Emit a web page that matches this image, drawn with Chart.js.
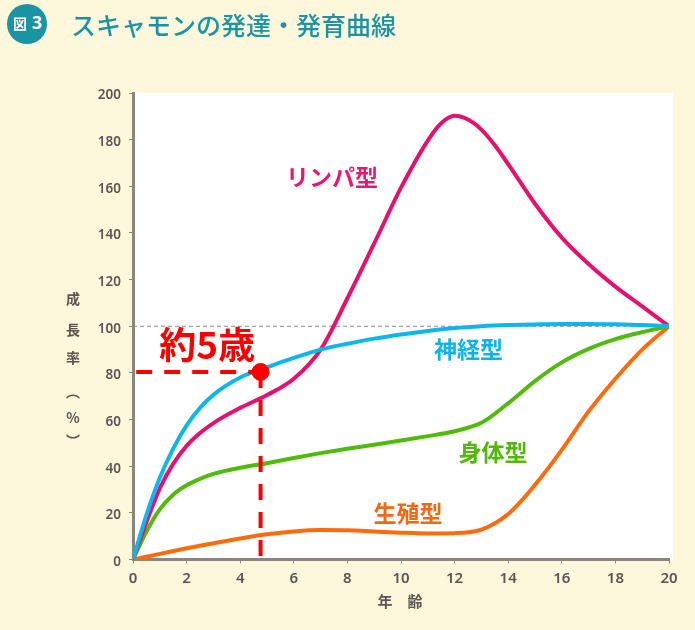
<!DOCTYPE html>
<html><head><meta charset="utf-8">
<style>html,body{margin:0;padding:0;background:#fdf7dc;overflow:hidden}#w{width:695px;height:630px;position:relative}</style>
<script src="https://cdn.jsdelivr.net/npm/chart.js@4"></script>
</head><body><div id="w"><canvas id="c" width="695" height="630"></canvas></div>
<script>
const xTicks=[0,2,4,6,8,10,12,14,16,18,20];
const yTicks=[0,20,40,60,80,100,120,140,160,180,200];
const lymphX=[0,0.5,1,1.5,2,2.5,3,4,5,6,7,8,9,10,11,11.5,12,12.5,13,13.5,14,15,16,17,18,19,20];
const lymphY=[0,16,30.5,41,48.7,54.2,58.5,65,70.5,77.5,90,112,135.5,159.4,179.6,187,190.2,188.6,184.3,177.6,169.5,152.5,138,126.7,117,108.5,100];
const neuralX=[0,0.5,1,1.5,2,2.5,3,4,5,6,7,8,9,10,11,12,13,14,15,16,17,18,19,20];
const neuralY=[0,19,35,47.5,57.5,65,70.6,78,82.4,86.4,90,92.5,94.7,96.5,98,99.2,100,100.5,100.8,101,101,100.9,100.5,100];
const generalX=[0,0.5,1,1.5,2,2.5,3,4,5,6,7,8,9,10,11,12,13,14,15,16,17,18,19,20];
const generalY=[0,12,21.5,27.8,31.8,34.6,36.7,39.3,41.3,43.5,45.6,47.5,49.2,51,52.9,55,58.6,67,76.5,84.5,90.3,94.5,97.5,100];
const reproX=[0,1,2,3,4,5,6,7,8,9,10,11,12,13,14,15,16,17,18,19,20];
const reproY=[0,2.4,4.8,7,9,10.8,12,12.6,12.5,12,11.5,11.2,11.3,12.8,19.5,32,47,63.5,77.5,90,100];
const title="スキャモンの発達・発育曲線";
const yTitle=["成","長","率","︵","%","︶"];
const xTitle="年　齢";
const names=["リンパ型","神経型","身体型","生殖型"];
const note="約5歳";
const pairs=(a,b)=>a.map((x,i)=>({x,y:b[i]}));
const jp='"Noto Sans CJK JP","Noto Sans",sans-serif';
const curve=(d,c)=>({data:pairs(d[0],d[1]),borderColor:c,borderWidth:4,pointRadius:0,cubicInterpolationMode:'monotone',fill:false});
const yTitleSpots=[299,330,358,392,418,441];
const decor={id:'decor',
 beforeDraw(ch){const g=ch.ctx,a=ch.chartArea;g.save();g.fillStyle='#fff';g.fillRect(a.left+2,a.top,a.right-a.left+2,a.bottom-a.top);g.restore();},
 afterDraw(ch){const g=ch.ctx,X=ch.scales.x,Y=ch.scales.y;g.save();g.textBaseline='middle';g.textAlign='left';
  g.fillStyle='#1a93a3';g.beginPath();g.arc(27,24,20,0,7);g.fill();
  g.fillStyle='#fff';g.font='bold 14px '+jp;g.fillText('図',13,24);g.font='bold 18px "Noto Sans",sans-serif';g.fillText('3',32,24);
  g.fillStyle='#1a93a3';g.font='500 25px '+jp;g.fillText(title,71,25);
  g.textAlign='center';
  g.fillStyle='#5a5552';g.font='bold 14px '+jp;
  yTitle.forEach((t,i)=>g.fillText(t,73,yTitleSpots[i]));
  g.font='bold 15px '+jp;g.fillText(xTitle,X.getPixelForValue(9.96),601);
  g.font='bold 23px '+jp;
  g.fillStyle='#e6186f';g.fillText(names[0],X.getPixelForValue(7.43),Y.getPixelForValue(163.7));
  g.fillStyle='#0db4ec';g.fillText(names[1],X.getPixelForValue(12.52),Y.getPixelForValue(90.3));
  g.fillStyle='#4fb80a';g.fillText(names[2],X.getPixelForValue(13.43),Y.getPixelForValue(46.1));
  g.fillStyle='#f26a10';g.fillText(names[3],X.getPixelForValue(10.26),Y.getPixelForValue(20));
  g.fillStyle='#fa0000';g.font='bold 37px '+jp;g.fillText(note,X.getPixelForValue(2.77),Y.getPixelForValue(92));
  g.restore();}};
new Chart(document.getElementById('c'),{type:'line',plugins:[decor],
 data:{datasets:[
  {data:pairs([4.76],[80.4]),backgroundColor:'#fa0000',borderColor:'#fa0000',pointRadius:8.5,showLine:false},
  {data:pairs([0.12,4.76],[80.4,80.4]),borderColor:'#fa0000',borderWidth:4,borderDash:[16,12],pointRadius:0},
  {data:pairs([4.76,4.76],[80.4,1.5]),borderColor:'#fa0000',borderWidth:4,borderDash:[16,12],pointRadius:0},
  curve([neuralX,neuralY],'#0db7ee'),
  curve([lymphX,lymphY],'#e5116f'),
  curve([generalX,generalY],'#4fbb0a'),
  curve([reproX,reproY],'#ff6a0a'),
  {data:pairs([0,20],[100,100]),borderColor:'#8f8a88',borderWidth:1,borderDash:[4,3],pointRadius:0}
 ]},
 options:{responsive:false,animation:false,devicePixelRatio:1,
  layout:{padding:{left:0,right:26,top:93,bottom:0}},
  plugins:{legend:{display:false},tooltip:{enabled:false}},
  scales:{
   x:{type:'linear',min:0,max:20,afterBuildTicks(s){s.ticks=xTicks.map(v=>({value:v}))},afterFit(s){s.height=70.5},
    grid:{display:true,drawOnChartArea:false,drawTicks:true,tickLength:4,color:'#8a8580',tickWidth:1},border:{color:'#8a8580',width:3},
    ticks:{color:'#5a5552',font:{size:15,weight:'600',family:'"Noto Sans",sans-serif'},padding:6,maxRotation:0,autoSkip:false}},
   y:{type:'linear',min:0,max:200,afterBuildTicks(s){s.ticks=yTicks.map(v=>({value:v}))},afterFit(s){s.width=133},
    grid:{display:true,drawOnChartArea:false,drawTicks:true,tickLength:4,color:'#8a8580',tickWidth:1},border:{color:'#8a8580',width:3},
    ticks:{color:'#5a5552',font:{size:13.5,weight:'600',family:'"Noto Sans",sans-serif'},padding:8,labelOffset:2.5,autoSkip:false}}
  }}});
</script></body></html>
